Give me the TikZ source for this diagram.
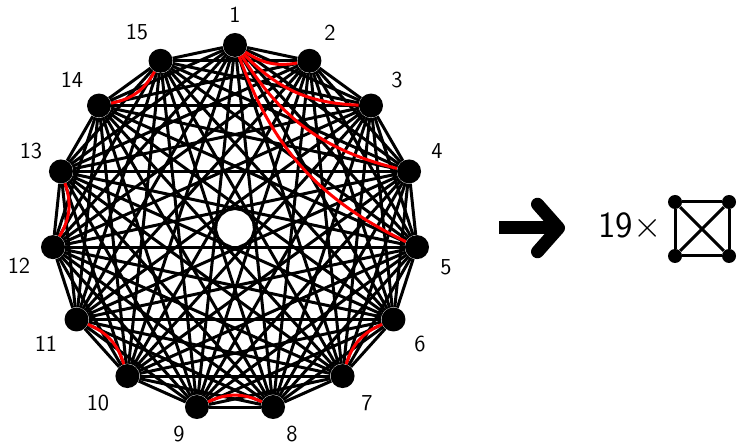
\documentclass[tikz,border=0pt]{standalone}
\usepackage{tikz}
\usetikzlibrary{arrows.meta}

\begin{document}
\begin{tikzpicture}[
    vert/.style={circle,fill=black,inner sep=0pt,minimum size=0.48cm},
    smallvert/.style={circle,fill=black,inner sep=0pt,minimum size=0.28cm},
    edge/.style={line width=0.06cm},
    redge/.style={line width=0.06cm,red},
    vlabel/.style={font=\sffamily\fontsize{13}{15}\selectfont,inner sep=0pt},
    bigarrow/.style={line width=0.26cm,-{Straight Barb[round,length=0.42cm,width=0.95cm]}}
  ]
    \useasboundingbox (-4.70,-4.34) rectangle (10.06,4.56);

    %vertices
    \foreach \i in {1,...,15}
        \node[vert] (v\i) at ({90-(\i-1)*24}:3.66) {};

    %labels
    \foreach \i/\p in {1/{0,4.26}, 2/{1.90,3.90}, 3/{3.24,2.96}, 4/{4.04,1.54},
                       5/{4.22,-0.78}, 6/{3.70,-2.32}, 7/{2.64,-3.50}, 8/{1.14,-4.12},
                       9/{-1.12,-4.12}, 10/{-2.74,-3.50}, 11/{-3.78,-2.32}, 12/{-4.32,-0.76},
                       13/{-4.08,1.54}, 14/{-3.26,2.96}, 15/{-1.96,3.92}}
        \node[vlabel] (l\i) at (\p) {\i};

    %all edges
    \foreach \i in {1,...,14} {
        \pgfmathtruncatemacro{\k}{\i+1}
        \foreach \j in {\k,...,15}
            \draw[edge] (v\i) -- (v\j);
    }

    %red
    \draw[redge] (v1) to[bend right=22] (v2);
    \draw[redge] (v1) to[bend right=22] (v3);
    \draw[redge] (v1) to[bend right=22] (v4);
    \draw[redge] (v1) to[bend right=22] (v5);
    \draw[redge] (v6) to[bend right=25] (v7);
    \draw[redge] (v8) to[bend right=25] (v9);
    \draw[redge] (v10) to[bend right=25] (v11);
    \draw[redge] (v12) to[bend right=25] (v13);
    \draw[redge] (v14) to[bend right=25] (v15);

    %arrow
    \coordinate (as) at (5.28,0);
    \coordinate (ae) at (6.60,0);
    \draw[bigarrow] (as) -- (ae);

    \node[font=\sffamily\fontsize{21}{24}\selectfont] (times) at (7.90,0.02) {19$\times$};

    %K4
    \node[smallvert] (k1) at (8.80,0.52) {};
    \node[smallvert] (k2) at (9.88,0.52) {};
    \node[smallvert] (k3) at (9.88,-0.56) {};
    \node[smallvert] (k4) at (8.80,-0.56) {};
    \draw[edge] (k1) -- (k2) -- (k3) -- (k4) -- (k1);
    \draw[edge] (k1) -- (k3);
    \draw[edge] (k2) -- (k4);

\end{tikzpicture}
\end{document}
